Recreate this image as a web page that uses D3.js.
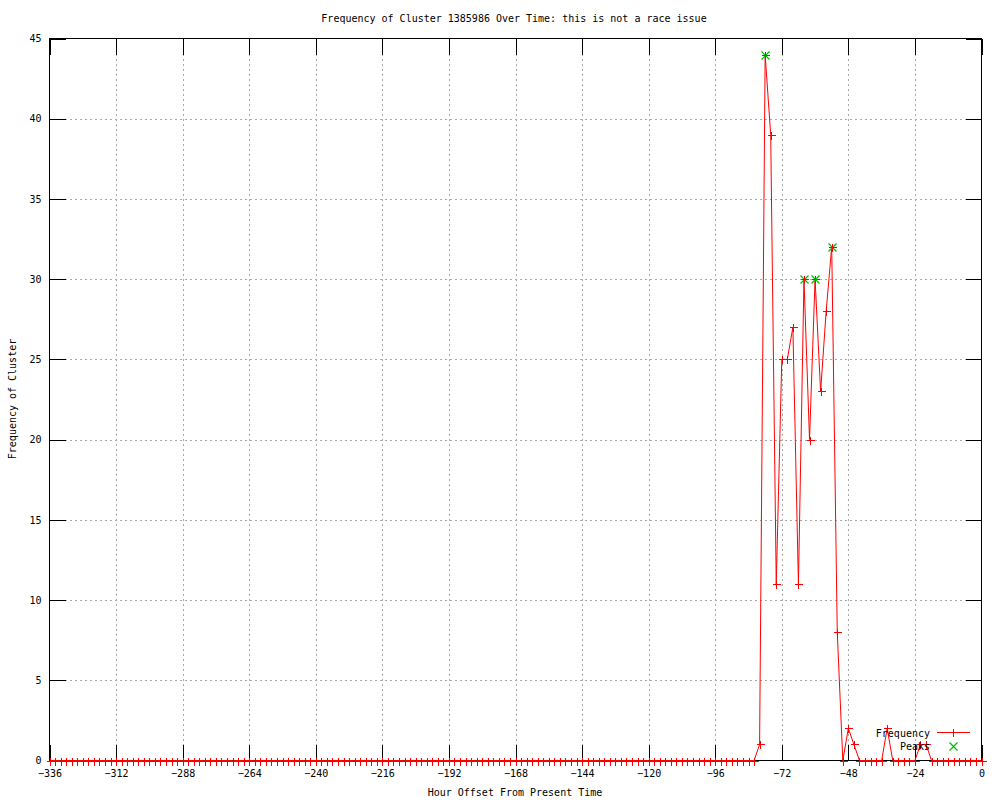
<!DOCTYPE html>
<html>
<head>
<meta charset="utf-8">
<script src="https://cdn.jsdelivr.net/npm/d3@7"></script>
<style>
  body { margin: 0; background: #fff; }
  text { font-family: "DejaVu Sans Mono", monospace; font-size: 10px; fill: #000; }
</style>
</head>
<body>
<div id="chart"></div>
<script>
// hour offsets (every 2 hours) and cluster frequency
var hours = [
  -336,-334,-332,-330,-328,-326,-324,-322,-320,-318,-316,-314,-312,-310,-308,-306,-304,-302,-300,-298,
  -296,-294,-292,-290,-288,-286,-284,-282,-280,-278,-276,-274,-272,-270,-268,-266,-264,-262,-260,-258,
  -256,-254,-252,-250,-248,-246,-244,-242,-240,-238,-236,-234,-232,-230,-228,-226,-224,-222,-220,-218,
  -216,-214,-212,-210,-208,-206,-204,-202,-200,-198,-196,-194,-192,-190,-188,-186,-184,-182,-180,-178,
  -176,-174,-172,-170,-168,-166,-164,-162,-160,-158,-156,-154,-152,-150,-148,-146,-144,-142,-140,-138,
  -136,-134,-132,-130,-128,-126,-124,-122,-120,-118,-116,-114,-112,-110,-108,-106,-104,-102,-100,-98,
  -96,-94,-92,-90,-88,-86,-84,-82,-80,-78,-76,-74,-72,-70,-68,-66,-64,-62,-60,-58,
  -56,-54,-52,-50,-48,-46,-44,-42,-40,-38,-36,-34,-32,-30,-28,-26,-24,-22,-20,-18,
  -16,-14,-12,-10,-8,-6,-4,-2,0
];
var frequency = [
  0,0,0,0,0,0,0,0,0,0,0,0,0,0,0,0,0,0,0,0,
  0,0,0,0,0,0,0,0,0,0,0,0,0,0,0,0,0,0,0,0,
  0,0,0,0,0,0,0,0,0,0,0,0,0,0,0,0,0,0,0,0,
  0,0,0,0,0,0,0,0,0,0,0,0,0,0,0,0,0,0,0,0,
  0,0,0,0,0,0,0,0,0,0,0,0,0,0,0,0,0,0,0,0,
  0,0,0,0,0,0,0,0,0,0,0,0,0,0,0,0,0,0,0,0,
  0,0,0,0,0,0,0,0,1,44,39,11,25,25,27,11,30,20,30,23,
  28,32,8,0,2,1,0,0,0,0,0,2,0,0,0,0,0,1,1,0,
  0,0,0,0,0,0,0,0,0
];
var peakHours = [-78, -64, -60, -54];
var peakValues = [44, 30, 30, 32];

var xTicks = [-336,-312,-288,-264,-240,-216,-192,-168,-144,-120,-96,-72,-48,-24,0];
var yTicks = [0,5,10,15,20,25,30,35,40,45];

var width = 1000, height = 800;
var plot = { left: 49.5, right: 981.5, top: 38.5, bottom: 760.5 };

var svg = d3.select("#chart").append("svg")
    .attr("width", width)
    .attr("height", height);

var x = d3.scaleLinear().domain([-336, 0]).range([plot.left, plot.right]);
var y = d3.scaleLinear().domain([0, 45]).range([plot.bottom, plot.top]);

var data = hours.map(function(h, i){ return { h: h, v: frequency[i] }; });
var peaks = peakHours.map(function(h, i){ return { h: h, v: peakValues[i] }; });

//grid lines
var grid = svg.append("g").attr("shape-rendering", "crispEdges")
    .attr("stroke", "#a8a8a8").attr("stroke-dasharray", "2,3");
grid.selectAll(".gx").data(xTicks.slice(1, -1)).join("line")
    .attr("x1", function(d){ return Math.round(x(d)) + 0.5; })
    .attr("x2", function(d){ return Math.round(x(d)) + 0.5; })
    .attr("y1", plot.top).attr("y2", plot.bottom);
grid.selectAll(".gy").data(yTicks.slice(1, -1)).join("line")
    .attr("y1", function(d){ return Math.round(y(d)) + 0.5; })
    .attr("y2", function(d){ return Math.round(y(d)) + 0.5; })
    .attr("x1", plot.left).attr("x2", plot.right);

//axes with inward ticks on all four sides
var tickLen = 16;
var xAxisB = d3.axisBottom(x).tickValues(xTicks).tickSizeInner(-tickLen).tickSizeOuter(0);
var xAxisT = d3.axisTop(x).tickValues(xTicks).tickSizeInner(-tickLen).tickSizeOuter(0).tickFormat("");
var yAxisL = d3.axisLeft(y).tickValues(yTicks).tickSizeInner(-tickLen).tickSizeOuter(0);
var yAxisR = d3.axisRight(y).tickValues(yTicks).tickSizeInner(-tickLen).tickSizeOuter(0).tickFormat("");

function styleAxis(g){
  g.attr("shape-rendering", "crispEdges");
  g.select(".domain").remove();
  g.selectAll(".tick line").attr("stroke", "#000");
  g.selectAll(".tick text").attr("fill", "#000");
  g.attr("font-family", null).attr("font-size", null);
}

svg.append("g").attr("transform", "translate(0," + plot.bottom + ")").call(xAxisB).call(styleAxis)
   .selectAll(".tick text").attr("dy", "0.71em").attr("y", 9);
svg.append("g").attr("transform", "translate(0," + plot.top + ")").call(xAxisT).call(styleAxis);
svg.append("g").attr("transform", "translate(" + plot.left + ",0)").call(yAxisL).call(styleAxis)
   .selectAll(".tick text").attr("x", -8);
svg.append("g").attr("transform", "translate(" + plot.right + ",0)").call(yAxisR).call(styleAxis);

//border
svg.append("rect")
    .attr("x", plot.left).attr("y", plot.top)
    .attr("width", plot.right - plot.left).attr("height", plot.bottom - plot.top)
    .attr("fill", "none").attr("stroke", "#000").attr("shape-rendering", "crispEdges");

//frequency line
var line = d3.line().x(function(d){ return x(d.h); }).y(function(d){ return y(d.v); });
svg.append("path").datum(data)
    .attr("d", line)
    .attr("fill", "none").attr("stroke", "#ff0000").attr("stroke-width", 1);

var plusPath = "M-4,0H4M0,-4V4";
var crossPath = "M-4,-4L4,4M-4,4L4,-4";

function pos(d){ return "translate(" + (Math.round(x(d.h)) + 0.5) + "," + (Math.round(y(d.v)) + 0.5) + ")"; }

svg.append("g").selectAll("path").data(peaks).join("path")
    .attr("transform", pos)
    .attr("d", crossPath).attr("stroke", "#00c000").attr("fill", "none").attr("stroke-width", 1.2);

svg.append("g").attr("shape-rendering", "crispEdges").selectAll("path").data(data).join("path")
    .attr("transform", pos)
    .attr("d", plusPath).attr("stroke", "#ff0000").attr("fill", "none");

//legend
var leg = svg.append("g");
leg.append("text").attr("x", 930).attr("y", 733).attr("dy", "0.35em").attr("text-anchor", "end").text("Frequency");
leg.append("line").attr("x1", 937).attr("x2", 970).attr("y1", 732.5).attr("y2", 732.5)
    .attr("stroke", "#ff0000").attr("shape-rendering", "crispEdges");
leg.append("path").attr("transform", "translate(953.5,732.5)").attr("d", plusPath)
    .attr("stroke", "#ff0000").attr("fill", "none").attr("shape-rendering", "crispEdges");
leg.append("text").attr("x", 930).attr("y", 746).attr("dy", "0.35em").attr("text-anchor", "end").text("Peaks");
leg.append("path").attr("transform", "translate(953.5,746.5)").attr("d", crossPath)
    .attr("stroke", "#00c000").attr("fill", "none").attr("stroke-width", 1.2);

//titles
svg.append("text").attr("x", 514).attr("y", 22).attr("text-anchor", "middle")
    .text("Frequency of Cluster 1385986 Over Time: this is not a race issue");
svg.append("text").attr("x", 515).attr("y", 796).attr("text-anchor", "middle")
    .text("Hour Offset From Present Time");
svg.append("text").attr("transform", "translate(16,399) rotate(-90)").attr("text-anchor", "middle")
    .text("Frequency of Cluster");
</script>
</body>
</html>
